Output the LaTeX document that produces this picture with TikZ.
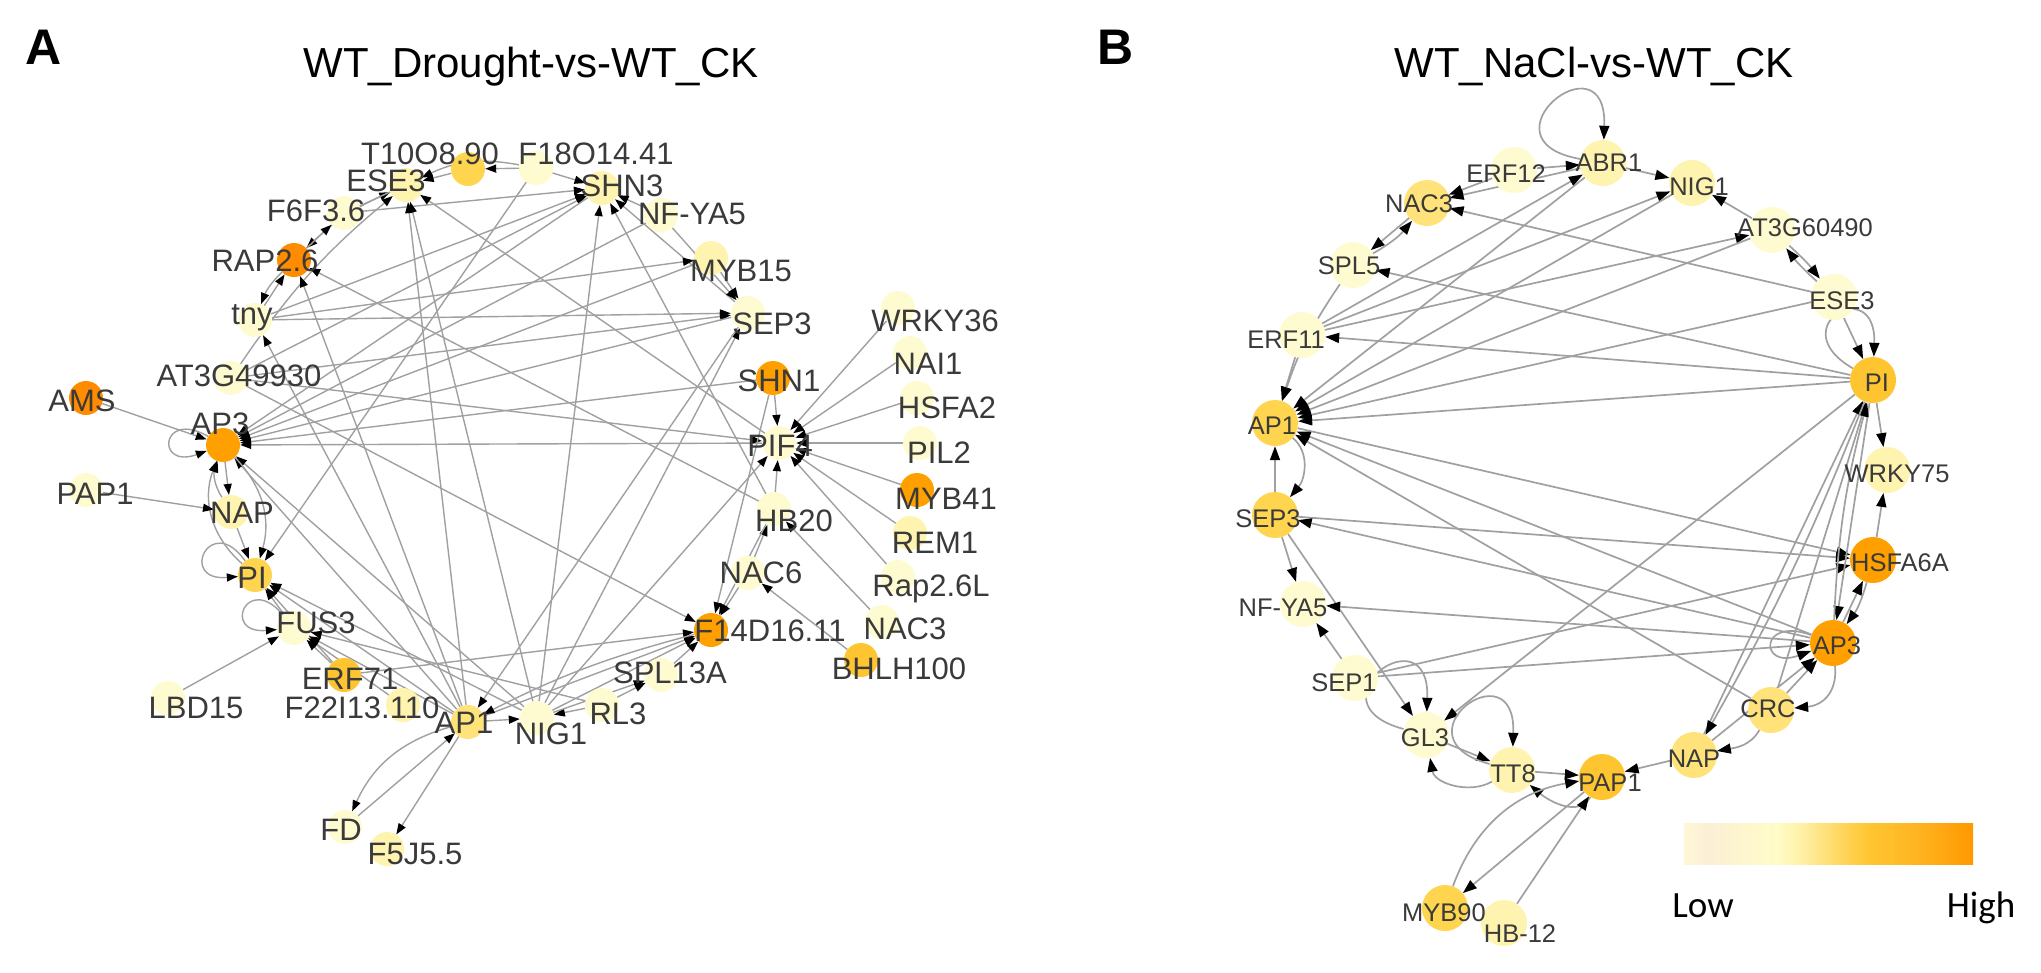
\documentclass[tikz,border=0pt]{standalone}
\usepackage{fontspec}
\setmainfont{Liberation Sans}
\newfontfamily\lowfont{Carlito}
\usetikzlibrary{arrows.meta}
\definecolor{eg}{HTML}{A0A0A0}
\definecolor{lg}{HTML}{3A3A3A}
\definecolor{c1}{HTML}{FFFBD0}
\definecolor{c2}{HTML}{FFF3B0}
\definecolor{c3}{HTML}{FFE27A}
\definecolor{c4}{HTML}{FFD54F}
\definecolor{c5}{HTML}{FFC530}
\definecolor{c6}{HTML}{FFA000}
\definecolor{c7}{HTML}{FF8C00}
\definecolor{s0}{HTML}{FFF8D6}
\definecolor{s1}{HTML}{FBEFD6}
\definecolor{s2}{HTML}{FFFCC8}
\definecolor{s3}{HTML}{FFF2AA}
\definecolor{s4}{HTML}{FFDA6A}
\definecolor{s5}{HTML}{FFC733}
\definecolor{s6}{HTML}{FFB522}
\definecolor{s7}{HTML}{FF9800}
\pgfdeclarehorizontalshading{lowhigh}{100bp}{color(0bp)=(s0); color(25bp)=(s0); color(29bp)=(s1); color(41bp)=(s2); color(45bp)=(s3); color(51bp)=(s4); color(56.5bp)=(s5); color(65bp)=(s6); color(75bp)=(s7); color(100bp)=(s7)}
\pgfdeclarelayer{edges}
\pgfsetlayers{edges,main}
\begin{document}
\begin{tikzpicture}[x=1pt,y=1pt,
  na/.style={circle,inner sep=0pt,minimum size=34pt,fill=#1},
  nb/.style={circle,inner sep=0pt,minimum size=46pt,fill=#1},
  la/.style={inner sep=0pt,text=lg,font=\fontsize{31}{31}\selectfont,text height=22pt,text depth=0pt},
  lb/.style={inner sep=0pt,text=lg,font=\fontsize{25.5}{25.5}\selectfont,text height=18pt,text depth=0pt},
  ea/.style={draw=eg,line width=1.4pt,-{Triangle[length=11pt,width=8pt,color=black]}},
  eb/.style={draw=eg,line width=1.7pt,-{Triangle[length=14pt,width=10pt,color=black]}},
  ttl/.style={inner sep=0pt,font=\fontsize{42}{42}\selectfont,text height=30pt,text depth=0pt},
  pl/.style={inner sep=0pt,font=\fontsize{50}{50}\selectfont\bfseries,text height=36pt,text depth=0pt},
  cbl/.style={inner sep=0pt,font=\lowfont\fontsize{37}{37}\selectfont,text height=24pt,text depth=0pt}]
\useasboundingbox (0,0) rectangle (2041,-972);
% ---------- Panel A nodes ----------
\node[na=c4] (aT10) at (468,-169) {};
\node[na=c1] (aF18) at (536,-168) {};
\node[na=c2] (aESE3) at (406,-185) {};
\node[na=c2] (aSHN3) at (602,-188) {};
\node[na=c1] (aF6F3) at (344,-213) {};
\node[na=c1] (aNFYA5) at (661,-215) {};
\node[na=c7] (aRAP26) at (294,-260) {};
\node[na=c2] (aMYB15) at (711,-258) {};
\node[na=c1] (atny) at (255,-320) {};
\node[na=c1] (aSEP3) at (748,-313) {};
\node[na=c1] (aAT3G) at (231,-378) {};
\node[na=c7] (aAMS) at (86,-398) {};
\node[na=c6] (aAP3) at (223,-445) {};
\node[na=c1] (aPAP1) at (86,-490) {};
\node[na=c2] (aNAP) at (231,-512) {};
\node[na=c4] (aPI) at (255,-575) {};
\node[na=c1] (aFUS3) at (294,-628) {};
\node[na=c1] (aLBD15) at (168,-698) {};
\node[na=c5] (aERF71) at (344,-675) {};
\node[na=c2] (aF22) at (403,-705) {};
\node[na=c3] (aAP1) at (468,-722) {};
\node[na=c1] (aNIG1) at (537,-718) {};
\node[na=c1] (aRL3) at (602,-705) {};
\node[na=c1] (aSPL13A) at (661,-675) {};
\node[na=c6] (aF14) at (711,-630) {};
\node[na=c1] (aFD) at (345,-827) {};
\node[na=c2] (aF5J5) at (387,-849) {};
\node[na=c1] (aWRKY36) at (898,-308) {};
\node[na=c1] (aNAI1) at (910,-353) {};
\node[na=c6] (aSHN1) at (773,-378) {};
\node[na=c1] (aHSFA2) at (917,-398) {};
\node[na=c1] (aPIF4) at (779,-443) {};
\node[na=c1] (aPIL2) at (920,-443) {};
\node[na=c6] (aMYB41) at (917,-490) {};
\node[na=c1] (aHB20) at (774,-509) {};
\node[na=c2] (aREM1) at (910,-533) {};
\node[na=c1] (aNAC6) at (748,-573) {};
\node[na=c1] (aRap26L) at (898,-577) {};
\node[na=c1] (aNAC3) at (882,-622) {};
\node[na=c5] (aBHLH100) at (861,-660) {};
% ---------- Panel B nodes ----------
\node[nb=c2] (bABR1) at (1603,-163) {};
\node[nb=c1] (bERF12) at (1514,-170) {};
\node[nb=c2] (bNIG1) at (1692,-183) {};
\node[nb=c3] (bNAC3) at (1427,-203) {};
\node[nb=c1] (bAT3G) at (1772,-230) {};
\node[nb=c1] (bSPL5) at (1353,-265) {};
\node[nb=c1] (bESE3) at (1834,-297) {};
\node[nb=c1] (bERF11) at (1302,-335) {};
\node[nb=c5] (bPI) at (1873,-380) {};
\node[nb=c4] (bAP1) at (1275,-423) {};
\node[nb=c2] (bWRKY75) at (1887,-470) {};
\node[nb=c4] (bSEP3) at (1275,-515) {};
\node[nb=c6] (bHSFA6A) at (1873,-560) {};
\node[nb=c1] (bNFYA5) at (1303,-604) {};
\node[nb=c6] (bAP3) at (1833,-643) {};
\node[nb=c1] (bSEP1) at (1355,-678) {};
\node[nb=c3] (bCRC) at (1771,-710) {};
\node[nb=c1] (bGL3) at (1426,-735) {};
\node[nb=c3] (bNAP) at (1694,-755) {};
\node[nb=c2] (bTT8) at (1512,-770) {};
\node[nb=c5] (bPAP1) at (1602,-777) {};
\node[nb=c4] (bMYB90) at (1445,-908) {};
\node[nb=c2] (bHB12) at (1504,-923) {};
% ---------- Edges ----------
\begin{pgfonlayer}{edges}
\draw[ea] (aF18) -- (aT10);
\draw[ea] (aT10) -- (aESE3);
\draw[ea] (aF18) to[bend right=18] (aESE3);
\draw[ea] (aF18) -- (aSHN3);
\draw[ea] (aF6F3) -- (aESE3);
\draw[ea] (aESE3) to[bend right=10] (aRAP26);
\draw[ea] (aRAP26) -- (aF6F3);
\draw[ea] (atny) -- (aRAP26);
\draw[ea] (aRAP26) to[bend right=12] (atny);
\draw[ea] (aAT3G) to[bend left=8] (aESE3);
\draw[ea] (atny) -- (aSHN3);
\draw[ea] (aF6F3) -- (aSHN3);
\draw[ea] (aAT3G) -- (aSHN3);
\draw[ea] (aNFYA5) -- (aSHN3);
\draw[ea] (aNIG1) -- (aSHN3);
\draw[ea] (aHB20) -- (aSHN3);
\draw[ea] (aSEP3) -- (aSHN3);
\draw[ea] (aNFYA5) -- (aSEP3);
\draw[ea] (aMYB15) -- (aSEP3);
\draw[ea] (atny) -- (aMYB15);
\draw[ea] (aAT3G) -- (aSEP3);
\draw[ea] (atny) -- (aSEP3);
\draw[ea] (aSHN3) -- (aAP3);
\draw[ea] (aNFYA5) -- (aAP3);
\draw[ea] (aMYB15) -- (aAP3);
\draw[ea] (aSEP3) -- (aAP3);
\draw[ea] (aSHN1) -- (aAP3);
\draw[ea] (aPIF4) -- (aAP3);
\draw[ea] (aAMS) -- (aAP3);
\draw[ea] (aAP1) -- (aAP3);
\draw[ea] (aNIG1) -- (aAP3);
\draw[ea] (aAP3) to[out=150,in=200,looseness=9,min distance=55pt] (aAP3);
\draw[ea] (aNAP) to[bend left=25] (aAP3);
\draw[ea] (aAP3) -- (aNAP);
\draw[ea] (aPI) to[bend left=35] (aAP3);
\draw[ea] (aAP3) to[bend left=30] (aPI);
\draw[ea] (aNAP) -- (aPI);
\draw[ea] (aPAP1) -- (aNAP);
\draw[ea] (aPI) to[out=125,in=185,looseness=9,min distance=55pt] (aPI);
\draw[ea] (aFUS3) -- (aPI);
\draw[ea] (aERF71) -- (aPI);
\draw[ea] (aFUS3) to[out=130,in=185,looseness=9,min distance=55pt] (aFUS3);
\draw[ea] (aLBD15) -- (aFUS3);
\draw[ea] (aERF71) -- (aFUS3);
\draw[ea] (aF22) -- (aFUS3);
\draw[ea] (aAP1) -- (aFUS3);
\draw[ea] (aAP1) -- (aPI);
\draw[ea] (aRL3) -- (aFUS3);
\draw[ea] (aNIG1) -- (aPI);
\draw[ea] (aERF71) -- (aF14);
\draw[ea] (aAP1) -- (aF14);
\draw[ea] (aF14) to[bend right=6] (aAP1);
\draw[ea] (aSPL13A) -- (aF14);
\draw[ea] (aNIG1) -- (aF14);
\draw[ea] (aAP1) -- (aNIG1);
\draw[ea] (aRL3) -- (aNIG1);
\draw[ea] (aNIG1) -- (aSPL13A);
\draw[ea] (aRL3) -- (aSPL13A);
\draw[ea] (aAP1) to[bend right=25] (aFD);
\draw[ea] (aFD) -- (aAP1);
\draw[ea] (aAP1) -- (aF5J5);
\draw[ea] (aAP1) -- (aESE3);
\draw[ea] (aAP1) -- (aRAP26);
\draw[ea] (aAP1) -- (atny);
\draw[ea] (aNIG1) -- (aESE3);
\draw[ea] (aNIG1) -- (aSEP3);
\draw[ea] (aSEP3) -- (aAP1);
\draw[ea] (aNIG1) -- (aPIF4);
\draw[ea] (aAT3G) -- (aF14);
\draw[ea] (aAT3G) -- (aPIF4);
\draw[ea] (aHB20) -- (aRAP26);
\draw[ea] (aPIF4) -- (aESE3);
\draw[ea] (aF18) -- (aPI);
\draw[ea] (aSHN1) -- (aPIF4);
\draw[ea] (aHB20) -- (aPIF4);
\draw[ea] (aWRKY36) -- (aPIF4);
\draw[ea] (aNAI1) -- (aPIF4);
\draw[ea] (aHSFA2) -- (aPIF4);
\draw[ea] (aPIL2) -- (aPIF4);
\draw[ea] (aMYB41) -- (aPIF4);
\draw[ea] (aREM1) -- (aPIF4);
\draw[ea] (aRap26L) -- (aPIF4);
\draw[ea] (aNAC3) -- (aHB20);
\draw[ea] (aBHLH100) -- (aNAC6);
\draw[ea] (aNAC6) -- (aHB20);
\draw[ea] (aNAC6) -- (aF14);
\draw[ea] (aSHN1) -- (aF14);
\draw[ea] (aHB20) -- (aF14);
% B edges
\draw[eb] (bABR1) to[out=170,in=88,looseness=9,min distance=85pt] (bABR1);
\draw[eb] (bERF12) -- (bABR1);
\draw[eb] (bABR1) -- (bNIG1);
\draw[eb] (bERF12) -- (bNAC3);
\draw[eb] (bABR1) -- (bNAC3);
\draw[eb] (bNAC3) -- (bSPL5);
\draw[eb] (bSPL5) to[bend right=10] (bNAC3);
\draw[eb] (bAT3G) -- (bNIG1);
\draw[eb] (bESE3) to[bend left=5] (bAT3G);
\draw[eb] (bAT3G) to[bend left=5] (bESE3);
\draw[eb] (bESE3) -- (bNAC3);
\draw[eb] (bESE3) -- (bAP1);
\draw[eb] (bESE3) -- (bPI);
\draw[eb] (bPI) to[out=150,in=88,looseness=9,min distance=70pt] (bPI);
\draw[eb] (bPI) -- (bSPL5);
\draw[eb] (bPI) -- (bERF11);
\draw[eb] (bPI) -- (bAP1);
\draw[eb] (bERF11) -- (bABR1);
\draw[eb] (bERF11) -- (bNIG1);
\draw[eb] (bERF11) -- (bAT3G);
\draw[eb] (bERF11) -- (bAP1);
\draw[eb] (bSPL5) to[bend right=8] (bAP1);
\draw[eb] (bNIG1) -- (bAP1);
\draw[eb] (bABR1) -- (bAP1);
\draw[eb] (bAT3G) -- (bAP1);
\draw[eb] (bSEP3) -- (bAP1);
\draw[eb] (bAP1) to[out=-40,in=50] (bSEP3);
\draw[eb] (bSEP3) -- (bNFYA5);
\draw[eb] (bSEP1) -- (bNFYA5);
\draw[eb] (bSEP3) -- (bGL3);
\draw[eb] (bAP3) -- (bNFYA5);
\draw[eb] (bAP1) -- (bHSFA6A);
\draw[eb] (bSEP3) -- (bHSFA6A);
\draw[eb] (bSEP1) -- (bHSFA6A);
\draw[eb] (bSEP1) -- (bAP3);
\draw[eb] (bAP3) -- (bAP1);
\draw[eb] (bCRC) -- (bAP1);
\draw[eb] (bAP3) -- (bSEP3);
\draw[eb] (bPI) -- (bWRKY75);
\draw[eb] (bHSFA6A) -- (bWRKY75);
\draw[eb] (bAP3) -- (bHSFA6A);
\draw[eb] (bHSFA6A) to[bend left=10] (bAP3);
\draw[eb] (bPI) -- (bAP3);
\draw[eb] (bAP3) to[bend left=6] (bPI);
\draw[eb] (bCRC) -- (bAP3);
\draw[eb] (bAP3) to[out=-85,in=5,looseness=1.2] (bCRC);
\draw[eb] (bCRC) -- (bPI);
\draw[eb] (bNAP) -- (bPI);
\draw[eb] (bPI) to[bend left=4] (bNAP);
\draw[eb] (bNAP) -- (bAP3);
\draw[eb] (bCRC) to[out=-120,in=10] (bNAP);
\draw[eb] (bPI) -- (bGL3);
\draw[eb] (bNAP) -- (bPAP1);
\draw[eb] (bTT8) -- (bPAP1);
\draw[eb] (bGL3) -- (bTT8);
\draw[eb] (bTT8) to[out=-150,in=-80] (bGL3);
\draw[eb] (bGL3) to[out=165,in=88,looseness=9,min distance=70pt] (bGL3);
\draw[eb] (bTT8) to[out=165,in=88,looseness=9,min distance=55pt] (bTT8);
\draw[eb] (bPAP1) to[out=-120,in=-40] (bTT8);
\draw[eb] (bPAP1) -- (bMYB90);
\draw[eb] (bMYB90) to[out=70,in=190] (bPAP1);
\draw[eb] (bHB12) -- (bPAP1);
\draw[eb] (bAP3) to[out=160,in=200,looseness=9,min distance=45pt] (bAP3);
\end{pgfonlayer}
% ---------- Labels A ----------
\node[la] (tT10) at (430,-153) {T10O8.90};
\node[la] (tF18) at (596,-153) {F18O14.41};
\node[la] (tESE3) at (386,-180) {ESE3};
\node[la] (tSHN3) at (622,-185) {SHN3};
\node[la] (tF6F3) at (316,-210) {F6F3.6};
\node[la] (tNFYA5) at (692,-213) {NF-YA5};
\node[la] (tRAP26) at (265,-260) {RAP2.6};
\node[la] (tMYB15) at (741,-270) {MYB15};
\node[la] (ttny) at (252,-313) {tny};
\node[la] (tSEP3) at (772,-323) {SEP3};
\node[la] (tAT3G) at (239,-375) {AT3G49930};
\node[la] (tAMS) at (82,-400) {AMS};
\node[la] (tAP3) at (220,-423) {AP3};
\node[la] (tPAP1) at (95,-493) {PAP1};
\node[la] (tNAP) at (242,-512) {NAP};
\node[la] (tPI) at (252,-577) {PI};
\node[la] (tFUS3) at (316,-622) {FUS3};
\node[la] (tLBD15) at (196,-707) {LBD15};
\node[la] (tERF71) at (350,-678) {ERF71};
\node[la] (tF22) at (362,-707) {F22I13.110};
\node[la] (tAP1) at (464,-722) {AP1};
\node[la] (tNIG1) at (551,-733) {NIG1};
\node[la] (tRL3) at (618,-713) {RL3};
\node[la] (tSPL13A) at (670,-672) {SPL13A};
\node[la] (tF14) at (770,-630) {F14D16.11};
\node[la] (tFD) at (341,-829) {FD};
\node[la] (tF5J5) at (415,-853) {F5J5.5};
\node[la] (tWRKY36) at (935,-320) {WRKY36};
\node[la] (tNAI1) at (928,-363) {NAI1};
\node[la] (tSHN1) at (779,-380) {SHN1};
\node[la] (tHSFA2) at (947,-407) {HSFA2};
\node[la] (tPIF4) at (780,-445) {PIF4};
\node[la] (tPIL2) at (939,-452) {PIL2};
\node[la] (tMYB41) at (946,-498) {MYB41};
\node[la] (tHB20) at (794,-520) {HB20};
\node[la] (tREM1) at (935,-542) {REM1};
\node[la] (tNAC6) at (761,-572) {NAC6};
\node[la] (tRap26L) at (931,-585) {Rap2.6L};
\node[la] (tNAC3) at (905,-628) {NAC3};
\node[la] (tBHLH100) at (899,-668) {BHLH100};
% ---------- Labels B ----------
\node[lb] (uABR1) at (1609,-162) {ABR1};
\node[lb] (uERF12) at (1506,-173) {ERF12};
\node[lb] (uNIG1) at (1699,-186) {NIG1};
\node[lb] (uNAC3) at (1419,-203) {NAC3};
\node[lb] (uAT3G) at (1805,-227) {AT3G60490};
\node[lb] (uSPL5) at (1349,-265) {SPL5};
\node[lb] (uESE3) at (1842,-300) {ESE3};
\node[lb] (uERF11) at (1286,-339) {ERF11};
\node[lb] (uPI) at (1877,-382) {PI};
\node[lb] (uAP1) at (1272,-425) {AP1};
\node[lb] (uWRKY75) at (1897,-473) {WRKY75};
\node[lb] (uSEP3) at (1268,-518) {SEP3};
\node[lb] (uHSFA6A) at (1900,-562) {HSFA6A};
\node[lb] (uNFYA5) at (1283,-607) {NF-YA5};
\node[lb] (uAP3) at (1837,-645) {AP3};
\node[lb] (uSEP1) at (1344,-682) {SEP1};
\node[lb] (uCRC) at (1768,-708) {CRC};
\node[lb] (uGL3) at (1425,-737) {GL3};
\node[lb] (uNAP) at (1694,-758) {NAP};
\node[lb] (uTT8) at (1513,-773) {TT8};
\node[lb] (uPAP1) at (1610,-782) {PAP1};
\node[lb] (uMYB90) at (1444,-912) {MYB90};
\node[lb] (uHB12) at (1520,-933) {HB-12};
% ---------- Titles, letters, colour bar ----------
\node[pl] (letA) at (44,-46) {A};
\node[pl] (letB) at (1116,-46) {B};
\node[ttl] (titA) at (531,-62) {WT\_Drought-vs-WT\_CK};
\node[ttl] (titB) at (1594,-62) {WT\_NaCl-vs-WT\_CK};
\node[inner sep=0pt,minimum width=289pt,minimum height=41pt,shading=lowhigh] (cbar) at (1828.5,-843.5) {};
\node[cbl] (low) at (1703,-905) {Low};
\node[cbl] (high) at (1981,-905) {High};
\end{tikzpicture}
\end{document}
